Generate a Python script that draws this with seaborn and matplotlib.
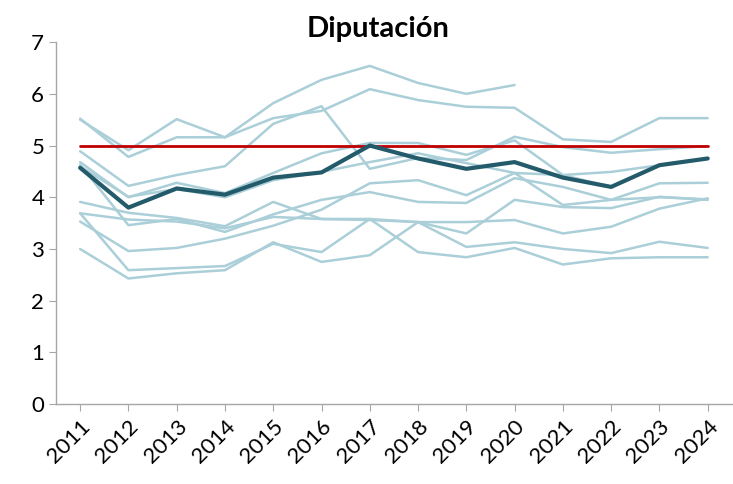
import numpy as np
import pandas as pd
import matplotlib
matplotlib.use("Agg")
import matplotlib.pyplot as plt
import seaborn as sns

# --- data ---
years = [str(y) for y in range(2011, 2025)]
nan = np.nan

light_series = {
    "s1": [5.50, 4.91, 5.51, 5.16, 5.82, 6.27, 6.54, 6.21, 6.00, 6.17, nan, nan, nan, nan],
    "s2": [5.52, 4.78, 5.16, 5.16, 5.53, 5.67, 6.09, 5.88, 5.75, 5.73, 5.12, 5.07, 5.53, 5.53],
    "s3": [4.89, 4.22, 4.43, 4.60, 5.42, 5.76, 4.55, 4.76, 4.72, 5.17, 4.97, 4.86, 4.93, 4.99],
    "s4": [4.68, 4.00, 4.28, 4.08, 4.47, 4.85, 5.05, 5.05, 4.82, 5.10, 4.43, 4.49, 4.62, 4.75],
    "s5": [4.63, 3.46, 3.58, 3.33, 3.67, 3.95, 4.10, 3.91, 3.89, 4.37, 4.20, 3.95, 4.27, 4.28],
    "s6": [3.91, 3.70, 3.60, 3.44, 3.91, 3.58, 3.56, 3.52, 3.30, 3.95, 3.81, 3.79, 4.01, 3.95],
    "s7": [3.69, 3.57, 3.53, 3.40, 3.62, 3.58, 3.58, 3.52, 3.52, 3.56, 3.30, 3.43, 3.78, 3.98],
    "s8": [3.69, 2.59, 2.63, 2.67, 3.10, 2.94, 3.58, 2.94, 2.84, 3.02, 2.70, 2.82, 2.84, 2.84],
    "s9": [3.00, 2.43, 2.53, 2.59, 3.13, 2.75, 2.88, 3.52, 3.04, 3.13, 3.00, 2.92, 3.14, 3.02],
    "s10": [3.53, 2.96, 3.02, 3.20, 3.45, 3.76, 4.27, 4.33, 4.04, 4.47, 3.85, 3.95, 4.00, 3.96],
    "s11": [4.60, 4.01, 4.16, 4.00, 4.33, 4.49, 4.68, 4.85, 4.66, 4.47, 4.43, 4.20, 4.62, 4.75],
}
diputacion = [4.57, 3.80, 4.17, 4.05, 4.38, 4.48, 5.00, 4.75, 4.55, 4.68, 4.38, 4.20, 4.62, 4.75]
reference = [5, 5, 5, 5, 5, 5, 5, 5, 5, 5, 5, 5, 5, 5]

# long format for seaborn
rows = []
for name, vals in light_series.items():
    for yr, v in zip(years, vals):
        rows.append({"serie": name, "año": yr, "valor": v})
df_light = pd.DataFrame(rows).dropna()
df_main = pd.DataFrame({"año": years, "valor": diputacion})
df_ref = pd.DataFrame({"año": years, "valor": reference})

# --- figure ---
sns.set_style("white")
plt.rcParams["font.family"] = ["Lato", "DejaVu Sans"]
plt.rcParams["text.color"] = "black"
plt.rcParams["xtick.color"] = "black"
plt.rcParams["ytick.color"] = "black"

fig = plt.figure(figsize=(7.33, 4.84), dpi=100)
ax = fig.add_axes([0.0764, 0.165, 0.922, 0.748])

sns.lineplot(data=df_light, x="año", y="valor", units="serie", estimator=None,
             color="#abcfd8", linewidth=1.8, ax=ax, sort=False)
sns.lineplot(data=df_ref, x="año", y="valor", color="#c00000", linewidth=2.0, ax=ax)
sns.lineplot(data=df_main, x="año", y="valor", color="#245b6b", linewidth=3.0, ax=ax)

ax.set_xlim(-0.5, len(years) - 0.5)
ax.set_ylim(0, 7)
ax.set_yticks(range(0, 8))
ax.set_xlabel("")
ax.set_ylabel("")
ax.set_title("Diputación", fontsize=21, fontweight="bold", color="black", pad=4, x=0.477)

for side in ["top", "right"]:
    ax.spines[side].set_visible(False)
for side in ["left", "bottom"]:
    ax.spines[side].set_color("#a6a6a6")
    ax.spines[side].set_linewidth(1.0)

ax.tick_params(axis="both", direction="out", length=5, color="#a6a6a6",
               labelcolor="black", labelsize=16)
ax.tick_params(axis="x", bottom=True)
ax.tick_params(axis="y", left=True)
plt.setp(ax.get_xticklabels(), rotation=45, ha="right", rotation_mode="anchor")

fig.savefig("out.png", dpi=100)
